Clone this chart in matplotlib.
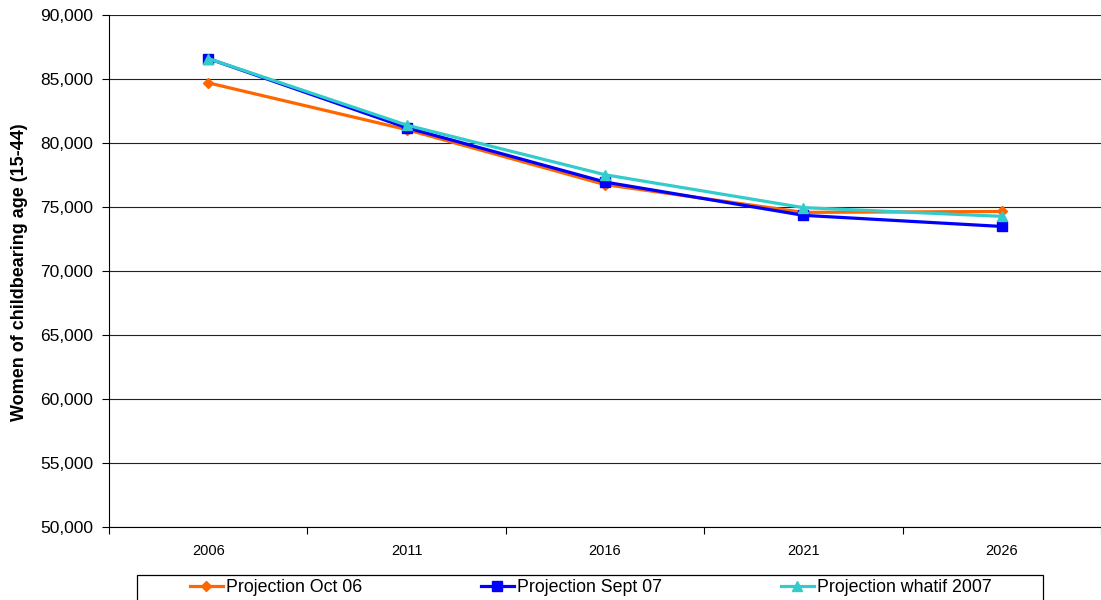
import matplotlib
matplotlib.use("Agg")
import matplotlib.pyplot as plt
from matplotlib.ticker import FuncFormatter, FixedLocator
from matplotlib.patches import Rectangle

plt.rcParams['font.family'] = ['Liberation Sans', 'DejaVu Sans']

years = ['2006', '2011', '2016', '2021', '2026']
oct06 = [84700, 81050, 76750, 74580, 74650]
sept07 = [86600, 81200, 76950, 74350, 73480]
whatif = [86600, 81400, 77520, 74950, 74270]

W, H = 1101, 600
fig = plt.figure(figsize=(W / 100, H / 100), dpi=100)
ax = fig.add_axes([109 / W, 73 / H, 1 - 109 / W, 512 / H])

x = list(range(len(years)))
ax.plot(x, oct06, color='#FF6600', lw=2.3, marker='D', ms=5.5, label='Projection Oct 06', zorder=3)
ax.plot(x, sept07, color='#0000FF', lw=2.3, marker='s', ms=6.5, label='Projection Sept 07', zorder=4)
ax.plot(x, whatif, color='#33CCCC', lw=2.3, marker='^', ms=7, label='Projection whatif 2007', zorder=5)

ax.set_xlim(-0.5, len(years) - 0.5)
ax.set_ylim(50000, 90000)
ax.set_yticks(range(50000, 90001, 5000))
ax.yaxis.set_major_formatter(FuncFormatter(lambda v, p: f'{int(v):,}'))
ax.tick_params(axis='y', labelsize=12.5, length=5, width=0.8, direction='out', pad=6.5)
ax.yaxis.grid(True, color='#222222', lw=0.8)
ax.set_axisbelow(True)

ax.xaxis.set_major_locator(FixedLocator([i - 0.5 for i in range(len(years) + 1)]))
ax.xaxis.set_major_formatter(FuncFormatter(lambda v, p: ''))
ax.xaxis.set_minor_locator(FixedLocator(x))
ax.set_xticklabels(years, minor=True)
ax.tick_params(axis='x', which='major', length=5, width=0.8, direction='out')
ax.tick_params(axis='x', which='minor', length=0, labelsize=10.5, pad=12.5)

for s in ['top', 'right']:
    ax.spines[s].set_visible(False)
ax.spines['left'].set_color('black')
ax.spines['bottom'].set_color('black')

fig.text(20 / W, 1 - 272 / H, 'Women of childbearing age (15-44)', rotation=90,
         ha='center', va='center', fontsize=13, fontweight='bold')

# legend frame (bottom runs past the figure edge, as in the reference)
fig.patches.append(Rectangle((137 / W, -10 / H), (1043 - 137) / W, (25 + 10) / H,
                             transform=fig.transFigure, fill=False, edgecolor='black',
                             lw=0.9, zorder=1))
leg = fig.legend(loc='center left', bbox_to_anchor=(190 / W, 1 - 588 / H, (992 - 190) / W, 0.0),
                 mode='expand', ncol=3, fontsize=12.8, frameon=False,
                 handlelength=1.85, borderpad=0.0, handletextpad=0.2, borderaxespad=0,
                 columnspacing=1.0)

fig.savefig('out.png', dpi=100)
